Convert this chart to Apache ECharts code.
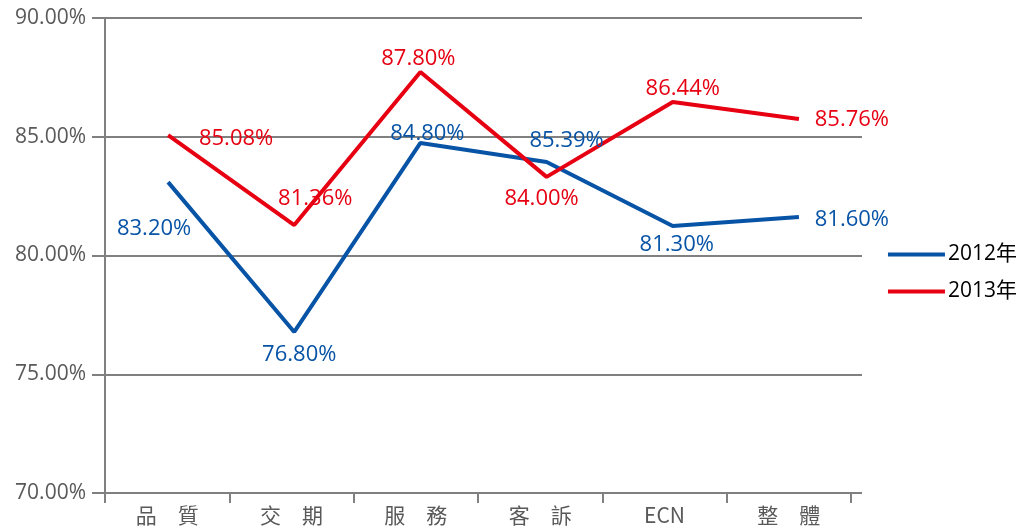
<!DOCTYPE html>
<html><head><meta charset="utf-8">
<script src="https://cdn.jsdelivr.net/npm/echarts@6/dist/echarts.min.js"></script>
<style>html,body{margin:0;padding:0;background:#fff}#c{width:1024px;height:528px}</style>
</head><body><div id="c"></div>
<script>
const categories = ['品　質','交　期','服　務','客　訴','ECN','整　體'];
const seriesNames = ['2012年','2013年'];
// plotted values (as drawn in the picture)
const values2012 = [83.09, 76.78, 84.74, 83.94, 81.24, 81.62];
const values2013 = [85.07, 81.28, 87.73, 83.31, 86.46, 85.75];
// data label texts as printed in the picture
const labels2012 = ['83.20%','76.80%','84.80%','85.39%','81.30%','81.60%'];
const labels2013 = ['85.08%','81.36%','87.80%','84.00%','86.44%','85.76%'];
const yTicks = {min:70, max:90, interval:5};

const FONT = '"Open Sans","Noto Sans CJK TC",sans-serif';
const BLUE = '#0753A6', RED = '#E60012';
// label offsets from each point (label centred on point, then shifted)
const off2012 = [[-14,47],[5,23],[7,-9],[20,-21],[4,19],[53,3]];
const off2013 = [[68,4],[21,-26],[-2,-13],[-5,22],[10,-13],[53,1]];

function build(vals, labs, off, color){
  return vals.map((v,i)=>({
    value:v,
    label:{show:true, formatter:labs[i], position:'inside', offset:off[i],
      align:'center', verticalAlign:'middle',
      color:color, fontSize:22, fontFamily:FONT}
  }));
}
const chart = echarts.init(document.getElementById('c'));
chart.setOption({
  animation:false,
  grid:[
    {left:105, right:162, top:18, bottom:35},
    {left:105, right:173, top:18, bottom:35}
  ],
  legend:{
    orient:'vertical', right:2, top:239, itemWidth:57, itemHeight:4, itemGap:16, icon:'rect',
    textStyle:{fontSize:21, color:'#000', fontFamily:FONT, padding:[0,0,0,-2]},
    data:seriesNames
  },
  xAxis:[
    {type:'category', gridIndex:0, data:categories, boundaryGap:true, show:false},
    {type:'category', gridIndex:1, data:categories, boundaryGap:true,
      axisLine:{lineStyle:{color:'#808080', width:2}},
      axisTick:{show:true, length:10, lineStyle:{color:'#808080', width:2}},
      axisLabel:{color:'#595959', fontSize:21, fontFamily:'"Noto Sans CJK TC",sans-serif', margin:12}}
  ],
  yAxis:[
    {type:'value', gridIndex:0, min:yTicks.min, max:yTicks.max, interval:yTicks.interval,
      axisLine:{show:true, lineStyle:{color:'#808080', width:2}},
      axisTick:{show:true, length:13, lineStyle:{color:'#808080', width:2}},
      splitLine:{lineStyle:{color:'#808080', width:2}},
      axisLabel:{color:'#595959', fontSize:21, fontFamily:FONT, margin:19, padding:[3,0,0,0],
        formatter:v=>v.toFixed(2)+'%'}},
    {type:'value', gridIndex:1, min:yTicks.min, max:yTicks.max, interval:yTicks.interval, show:false,
      splitLine:{show:false}}
  ],
  series:[
    {name:seriesNames[0], type:'line', xAxisIndex:0, yAxisIndex:0,
      symbol:'circle', symbolSize:0, showSymbol:true,
      data:build(values2012,labels2012,off2012,BLUE),
      lineStyle:{color:BLUE, width:4}, itemStyle:{color:BLUE}},
    {name:seriesNames[1], type:'line', xAxisIndex:0, yAxisIndex:0,
      symbol:'circle', symbolSize:0, showSymbol:true,
      data:build(values2013,labels2013,off2013,RED),
      lineStyle:{color:RED, width:4}, itemStyle:{color:RED}}
  ]
});
</script></body></html>
